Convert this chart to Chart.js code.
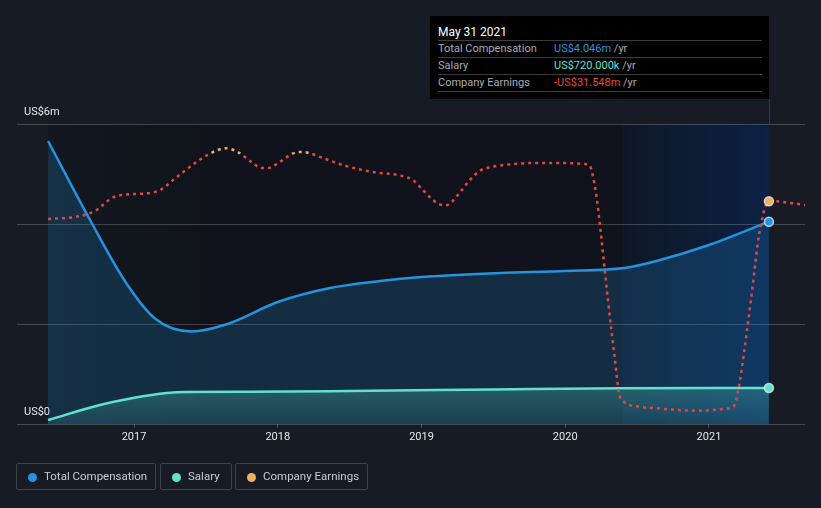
<!DOCTYPE html>
<html><head><meta charset="utf-8">
<script src="https://cdn.jsdelivr.net/npm/chart.js@4.4.1/dist/chart.umd.min.js"></script>
<style>
html,body{margin:0;padding:0;background:#161b24;}
body{width:821px;height:508px;position:relative;overflow:hidden;font-family:Roboto,"Open Sans",sans-serif;}
#c{position:absolute;left:0;top:0;}
.tip{position:absolute;left:430px;top:16px;width:339px;height:83px;background:#000;color:#a9adb3;font-size:11px;}
.tip .t{position:absolute;left:8px;top:8px;line-height:16px;font-size:12px;color:#fff;font-weight:normal;}
.tip .r{position:absolute;left:8px;width:324px;height:17px;border-top:1px solid #3b3d41;line-height:16px;}
.tip .r .l{position:absolute;left:0;top:0;}
.tip .r .v{position:absolute;left:116px;top:0;white-space:nowrap;}
.tip .end{position:absolute;left:8px;width:324px;top:75px;border-top:1px solid #3b3d41;}
.lg{position:absolute;top:463px;height:27px;border:1px solid #3d434d;border-radius:2px;box-sizing:border-box;color:#c9ccd1;font-size:11.5px;line-height:25px;}
.lg i{position:absolute;top:8.5px;width:9px;height:9px;border-radius:50%;}
.lg span{position:absolute;top:0;white-space:nowrap;}
</style></head>
<body>
<canvas id="c" width="821" height="508"></canvas>
<div class="tip">
  <div class="t">May 31 2021</div>
  <div class="r" style="top:24px"><span class="l">Total Compensation</span><span class="v"><span style="color:#2394df">US$4.046m</span> /yr</span></div>
  <div class="r" style="top:41px"><span class="l">Salary</span><span class="v"><span style="color:#5fe3cf">US$720.000k</span> /yr</span></div>
  <div class="r" style="top:58px"><span class="l">Company Earnings</span><span class="v"><span style="color:#e64545">-US$31.548m</span> /yr</span></div>
  <div class="end"></div>
</div>
<div class="lg" style="left:16px;width:140px"><i style="left:11px;background:#2394df"></i><span style="left:27px">Total Compensation</span></div>
<div class="lg" style="left:160px;width:72px"><i style="left:11px;background:#5fe3cf"></i><span style="left:27px">Salary</span></div>
<div class="lg" style="left:235px;width:133px"><i style="left:11px;background:#e9b35f"></i><span style="left:27px">Company Earnings</span></div>
<script>
// ---- data (years as decimal, values in US$ millions) ----
const yearTicks = [2017, 2018, 2019, 2020, 2021];
const compYears = [2016.402, 2016.70, 2016.95, 2017.15, 2017.40, 2017.65, 2018.0, 2018.363, 2018.711, 2019.0, 2019.546, 2020.0, 2020.409, 2020.659, 2021.0, 2021.417];
const compValues = [5.66, 4.05, 2.8, 2.1, 1.85, 2.0, 2.44, 2.72, 2.86, 2.94, 3.02, 3.06, 3.12, 3.28, 3.58, 4.046];
const salaryYears = [2016.402, 2016.763, 2016.993, 2017.23, 2017.37, 2017.81, 2018.5, 2019.5, 2020.4, 2021.417];
const salaryValues = [0.08, 0.38, 0.52, 0.62, 0.64, 0.645, 0.66, 0.69, 0.715, 0.72];
const earnYears = [2016.402, 2016.590, 2016.729, 2016.847, 2016.937, 2017.090, 2017.181, 2017.299, 2017.459, 2017.584, 2017.640, 2017.723, 2017.807, 2017.890, 2017.932, 2018.016, 2018.099, 2018.155, 2018.203, 2018.294, 2018.468, 2018.663, 2018.850, 2018.941, 2019.010, 2019.080, 2019.129, 2019.170, 2019.212, 2019.275, 2019.337, 2019.407, 2019.497, 2019.595, 2019.790, 2019.984, 2020.130, 2020.172, 2020.186, 2020.221, 2020.249, 2020.297, 2020.346, 2020.374, 2020.409, 2020.520, 2020.631, 2020.826, 2020.923, 2021.021, 2021.118, 2021.167, 2021.188, 2021.216, 2021.237, 2021.292, 2021.348, 2021.369, 2021.390, 2021.417, 2021.459, 2021.557, 2021.668];
const earnValues = [-43.3, -42.0, -38.0, -29.3, -27.0, -26.2, -24.0, -15.3, -3.7, 2.7, 3.8, 1.3, -4.7, -9.3, -9.3, -5.1, 0.0, 1.3, 1.0, -2.0, -7.8, -12.0, -14.3, -17.5, -24.0, -30.7, -33.7, -34.2, -31.8, -24.7, -17.3, -11.1, -8.5, -7.1, -6.0, -6.0, -6.7, -8.0, -12.0, -30.7, -54.0, -97.3, -137.3, -159.3, -165.3, -168.5, -169.5, -170.9, -171.1, -170.7, -169.8, -168.7, -164.7, -150.7, -137.3, -97.3, -54.0, -44.0, -35.3, -31.548, -31.5, -32.5, -34.0];
const highlightStart = 2020.417, highlightEnd = 2021.417;
const yLabels = {0: 'US$0', 6: 'US$6m'};

const toPts = (xs, ys) => xs.map((x, i) => ({x, y: ys[i]}));
const RED = '#e64545', ORANGE = '#e9b35f', BLUE = '#2394df', TEAL = '#5fe3cf';

const bgPlugin = {
  id: 'bg',
  beforeDraw(chart) {
    const {ctx, chartArea: a, scales: {x}} = chart;
    const x0 = x.getPixelForValue(compYears[0]), x1 = x.getPixelForValue(compYears[compYears.length - 1]);
    let g = ctx.createLinearGradient(x0, 0, x0 + 160, 0);
    g.addColorStop(0, 'rgba(14,17,23,0.3)');
    g.addColorStop(1, 'rgba(14,17,23,0.75)');
    ctx.save();
    ctx.fillStyle = g;
    ctx.fillRect(x0, a.top, x1 - x0, a.bottom - a.top);
    const h0 = x.getPixelForValue(highlightStart), h1 = x.getPixelForValue(highlightEnd);
    g = ctx.createLinearGradient(h0, 0, h1, 0);
    g.addColorStop(0, 'rgba(12,34,70,0.3)');
    g.addColorStop(1, 'rgba(12,34,70,0.95)');
    ctx.fillStyle = g;
    ctx.fillRect(h0 - 3, a.top, h1 - h0 + 3, a.bottom - a.top);
    ctx.strokeStyle = 'rgba(35,110,190,0.45)';
    ctx.lineWidth = 1;
    ctx.beginPath();
    ctx.moveTo(Math.round(h1) + 0.5, 99);
    ctx.lineTo(Math.round(h1) + 0.5, a.top);
    ctx.stroke();
    ctx.restore();
  }
};

const lastR = (year) => (c) => (c.raw && Math.abs(c.raw.x - year) < 1e-6 ? 4.5 : 0);

new Chart(document.getElementById('c'), {
  type: 'line',
  data: {
    datasets: [
      {
        label: 'Company Earnings', yAxisID: 'y2',
        data: toPts(earnYears, earnValues),
        borderColor(c) {
          const {chart} = c; const a = chart.chartArea;
          if (!a) return RED;
          const y0 = chart.scales.y2.getPixelForValue(0);
          const s = Math.min(1, Math.max(0, (y0 - a.top) / (a.bottom - a.top)));
          const g = chart.ctx.createLinearGradient(0, a.top, 0, a.bottom);
          g.addColorStop(0, ORANGE); g.addColorStop(s, ORANGE); g.addColorStop(s, RED); g.addColorStop(1, RED);
          return g;
        },
        borderWidth: 2.5, borderDash: [3, 4], fill: false,
        cubicInterpolationMode: 'monotone',
        pointRadius: lastR(2021.417), pointBackgroundColor: ORANGE, pointBorderColor: 'rgba(235,235,235,0.8)', pointBorderWidth: 1.5
      },
      {
        label: 'Salary', yAxisID: 'y',
        data: toPts(salaryYears, salaryValues),
        borderColor: TEAL, borderWidth: 2.5,
        backgroundColor(c) {
          const a = c.chart.chartArea; if (!a) return 'rgba(95,227,207,0.2)';
          const g = c.chart.ctx.createLinearGradient(0, a.bottom - 40, 0, a.bottom);
          g.addColorStop(0, 'rgba(95,227,207,0.28)'); g.addColorStop(1, 'rgba(95,227,207,0.1)');
          return g;
        },
        fill: 'origin', cubicInterpolationMode: 'monotone',
        pointRadius: lastR(2021.417), pointBackgroundColor: TEAL, pointBorderColor: 'rgba(235,235,235,0.8)', pointBorderWidth: 1.5
      },
      {
        label: 'Total Compensation', yAxisID: 'y',
        data: toPts(compYears, compValues),
        borderColor: BLUE, borderWidth: 2.5,
        backgroundColor: 'rgba(35,148,223,0.2)',
        fill: 'origin', cubicInterpolationMode: 'monotone',
        pointRadius: lastR(2021.417), pointBackgroundColor: BLUE, pointBorderColor: 'rgba(235,235,235,0.8)', pointBorderWidth: 1.5
      }
    ]
  },
  options: {
    responsive: false, animation: false,
    layout: {padding: {left: 17, right: 16, top: 124, bottom: 54}},
    plugins: {legend: {display: false}, tooltip: {enabled: false}},
    scales: {
      x: {
        type: 'linear', min: 2016.186, max: 2021.668,
        afterBuildTicks(s) { s.ticks = yearTicks.map(v => ({value: v})); },
        afterFit(s) { s.height = 30; },
        grid: {drawOnChartArea: false, drawTicks: true, tickLength: 4, color: '#4b4f57'},
        border: {display: false},
        ticks: {color: '#e6e7e9', font: {family: 'Roboto', size: 11}, padding: 3, maxRotation: 0, callback: v => String(v)}
      },
      y: {
        min: 0, max: 6,
        afterBuildTicks(s) { s.ticks = [0, 2, 4, 6].map(v => ({value: v})); },
        afterFit(s) { s.width = 0; },
        grid: {color: 'rgba(255,255,255,0.2)', drawTicks: false},
        border: {display: false},
        ticks: {mirror: true, padding: 7, labelOffset: -12, color: '#e6e7e9', font: {family: 'Roboto', size: 11}, callback: v => yLabels[v] || ''}
      },
      y2: {min: -180, max: 20, display: false}
    }
  },
  plugins: [bgPlugin]
});
</script>
</body></html>
